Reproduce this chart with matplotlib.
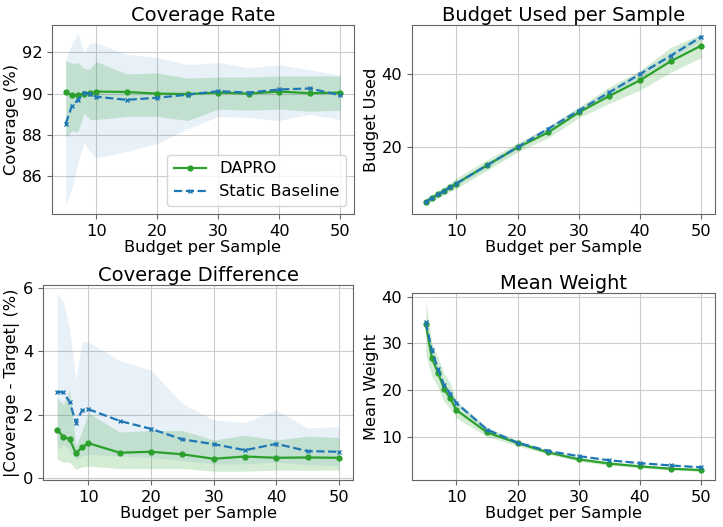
import matplotlib
matplotlib.use('Agg')
import matplotlib.pyplot as plt
import numpy as np

budgets = [5, 6, 7, 8, 9, 10, 15, 20, 25, 30, 35, 40, 45, 50]

# Coverage rate (%)
cov_dapro = [90.08, 89.92, 89.93, 90.0, 90.02, 90.1, 90.08, 90.0, 89.98, 90.05, 90.0, 90.1, 90.02, 90.05]
cov_dapro_hi = [91.6, 91.45, 91.5, 91.2, 91.2, 91.55, 90.95, 91.0, 90.75, 90.8, 90.8, 90.85, 90.85, 90.85]
cov_dapro_lo = [87.9, 88.2, 88.15, 89.05, 88.75, 88.75, 88.9, 88.9, 88.7, 89.25, 89.2, 89.25, 89.15, 89.2]
cov_static = [88.55, 89.4, 89.7, 90.05, 90.0, 89.85, 89.7, 89.8, 89.95, 90.12, 90.05, 90.2, 90.25, 89.92]
cov_static_hi = [91.65, 92.4, 92.9, 92.0, 92.45, 92.45, 91.9, 91.75, 91.4, 91.5, 91.25, 91.4, 91.15, 90.9]
cov_static_lo = [84.6, 85.4, 86.7, 87.6, 87.2, 86.9, 87.2, 87.6, 88.3, 88.9, 88.85, 88.7, 89.0, 88.75]

# Budget used per sample
used_dapro = [5.0, 6.1, 7.0, 8.0, 9.0, 10.0, 15.0, 19.9, 24.0, 29.5, 34.0, 38.3, 43.5, 47.8]
used_dapro_hi = [6.0, 7.0, 8.0, 9.2, 10.2, 11.5, 16.5, 21.2, 25.5, 31.0, 36.5, 41.0, 47.3, 51.0]
used_dapro_lo = [4.0, 5.2, 6.0, 6.9, 7.9, 8.6, 13.6, 18.6, 22.5, 28.0, 32.0, 35.6, 40.5, 44.5]
used_static = [5.0, 6.0, 7.0, 8.0, 9.0, 10.0, 15.0, 20.0, 25.0, 30.0, 35.0, 40.0, 45.0, 50.2]
used_static_hi = [5.7, 6.7, 7.7, 8.7, 9.7, 10.7, 15.7, 20.7, 25.8, 30.8, 35.8, 40.8, 45.9, 51.1]
used_static_lo = [4.3, 5.3, 6.3, 7.3, 8.3, 9.3, 14.3, 19.3, 24.2, 29.2, 34.2, 39.2, 44.1, 49.3]

# |Coverage - Target| (%)
diff_dapro = [1.53, 1.3, 1.23, 0.78, 0.97, 1.1, 0.8, 0.83, 0.75, 0.61, 0.68, 0.64, 0.65, 0.64]
diff_dapro_hi = [2.55, 2.3, 2.8, 1.0, 1.5, 2.05, 1.45, 1.5, 1.5, 1.2, 1.35, 1.2, 1.32, 1.28]
diff_dapro_lo = [0.6, 0.5, 0.5, 0.28, 0.35, 0.38, 0.3, 0.3, 0.3, 0.22, 0.22, 0.25, 0.25, 0.25]
diff_static = [2.72, 2.7, 2.4, 1.75, 2.13, 2.17, 1.8, 1.55, 1.22, 1.07, 0.88, 1.08, 0.85, 0.83]
diff_static_hi = [5.8, 5.55, 4.7, 3.1, 4.3, 4.28, 3.7, 3.4, 2.35, 1.83, 1.75, 2.15, 1.58, 1.62]
diff_static_lo = [0.9, 1.05, 0.9, 0.6, 0.7, 0.75, 0.7, 0.65, 0.55, 0.45, 0.45, 0.5, 0.42, 0.4]

# Mean weight
w_dapro = [34.1, 26.8, 23.7, 20.2, 18.2, 15.7, 10.9, 8.6, 6.6, 5.1, 4.2, 3.6, 3.1, 2.8]
w_dapro_hi = [39.0, 30.0, 27.0, 23.5, 21.5, 17.5, 12.0, 9.2, 7.0, 5.5, 4.6, 3.9, 3.4, 3.1]
w_dapro_lo = [27.5, 23.0, 20.5, 17.5, 16.0, 14.0, 10.0, 8.0, 6.2, 4.7, 3.8, 3.3, 2.8, 2.5]
w_static = [34.5, 28.5, 24.5, 21.0, 19.2, 17.2, 11.5, 8.7, 6.9, 5.8, 4.9, 4.3, 3.8, 3.4]
w_static_hi = [35.3, 29.2, 25.2, 21.6, 19.8, 17.7, 11.9, 9.0, 7.1, 6.0, 5.1, 4.5, 4.0, 3.6]
w_static_lo = [33.7, 27.8, 23.8, 20.4, 18.6, 16.7, 11.1, 8.4, 6.7, 5.6, 4.7, 4.1, 3.6, 3.2]

GREEN = '#2ca02c'
BLUE = '#1f77b4'
FS = 11.7

plt.rcParams['axes.edgecolor'] = '#666666'


def draw(ax, d, d_lo, d_hi, s, s_lo, s_hi, title, ylabel):
    ax.plot(budgets, d, '-o', color=GREEN, lw=1.6, ms=3.5, label='DAPRO')
    ax.fill_between(budgets, d_lo, d_hi, color=GREEN, alpha=0.2, lw=0)
    ax.plot(budgets, s, '--x', color=BLUE, lw=1.6, ms=3.5, mew=1.0, label='Static Baseline')
    ax.fill_between(budgets, s_lo, s_hi, color=BLUE, alpha=0.1, lw=0)
    ax.set_title(title, fontsize=14, pad=3)
    ax.set_xlabel('Budget per Sample', fontsize=FS, labelpad=1)
    ax.set_ylabel(ylabel, fontsize=FS, labelpad=2)
    ax.tick_params(labelsize=FS, color='#666666')
    ax.grid(True, color='#cccccc', lw=0.8)
    ax.set_axisbelow(True)


fig, axes = plt.subplots(2, 2, figsize=(7.23, 5.27), dpi=100)
ax1, ax2, ax3, ax4 = axes.ravel()

draw(ax1, cov_dapro, cov_dapro_lo, cov_dapro_hi, cov_static, cov_static_lo, cov_static_hi,
     'Coverage Rate', 'Coverage (%)')
ax1.set_yticks([86, 88, 90, 92])
ax1.legend(loc='lower right', fontsize=FS, handlelength=2.0)

draw(ax2, used_dapro, used_dapro_lo, used_dapro_hi, used_static, used_static_lo, used_static_hi,
     'Budget Used per Sample', 'Budget Used')
ax2.set_yticks([20, 40])

draw(ax3, diff_dapro, diff_dapro_lo, diff_dapro_hi, diff_static, diff_static_lo, diff_static_hi,
     'Coverage Difference', '|Coverage - Target| (%)')
ax3.set_yticks([0, 2, 4, 6])

draw(ax4, w_dapro, w_dapro_lo, w_dapro_hi, w_static, w_static_lo, w_static_hi,
     'Mean Weight', 'Mean Weight')
ax4.set_yticks([10, 20, 30, 40])

for ax in axes.ravel():
    ax.set_xticks([10, 20, 30, 40, 50])

W, H = 723, 527
def place(ax, l, r, t, b):
    ax.set_position([l / W, 1 - b / H, (r - l) / W, (b - t) / H])

place(ax1, 52, 354, 25, 214)
place(ax2, 412, 715, 25, 214)
place(ax3, 43, 353, 285, 480)
place(ax4, 412, 715, 293, 480)

fig.savefig('out.png', dpi=100)
